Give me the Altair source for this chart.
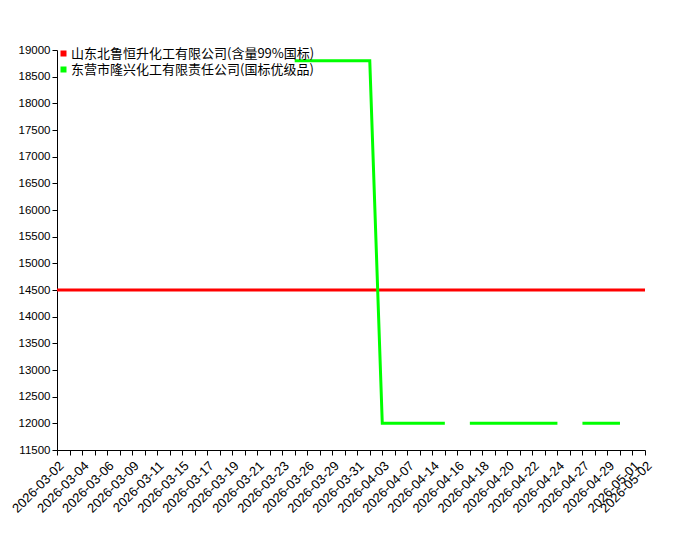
import altair as alt
import pandas as pd

dates = [
    "2026-03-02", "2026-03-03", "2026-03-04", "2026-03-05", "2026-03-06", "2026-03-08",
    "2026-03-09", "2026-03-10", "2026-03-11", "2026-03-13", "2026-03-15", "2026-03-16",
    "2026-03-17", "2026-03-18", "2026-03-19", "2026-03-20", "2026-03-21", "2026-03-22",
    "2026-03-23", "2026-03-25", "2026-03-26", "2026-03-27", "2026-03-29", "2026-03-30",
    "2026-03-31", "2026-04-02", "2026-04-03", "2026-04-06", "2026-04-07", "2026-04-10",
    "2026-04-14", "2026-04-15", "2026-04-16", "2026-04-17", "2026-04-18", "2026-04-19",
    "2026-04-20", "2026-04-21", "2026-04-22", "2026-04-23", "2026-04-24", "2026-04-26",
    "2026-04-27", "2026-04-28", "2026-04-29", "2026-04-30", "2026-05-01", "2026-05-02",
]

series_names = [
    "山东北鲁恒升化工有限公司(含量99%国标)",
    "东营市隆兴化工有限责任公司(国标优级品)",
]
series_colors = ["#ff0000", "#00ff00"]

red_values = [14500] * 48
N = None
green_values = [
    N, N, N, N, N, N, N, N, N, N, N, N, N, N, N, N, N, N, N,
    18800, 18800, 18800, 18800, 18800, 18800, 18800,
    12000, 12000, 12000, 12000, 12000, 12000,
    N,
    12000, 12000, 12000, 12000, 12000, 12000, 12000, 12000,
    N,
    12000, 12000, 12000, 12000,
    N, N,
]

y_ticks = list(range(11500, 19001, 500))

shown_labels = dates[::2] + [dates[-1]]

rows = []
for d, r, g in zip(dates, red_values, green_values):
    rows.append({"date": d, "series": series_names[0], "value": r})
    rows.append({"date": d, "series": series_names[1], "value": g})
df = pd.DataFrame(rows)

label_list = "[" + ",".join("'" + s + "'" for s in shown_labels) + "]"

chart = (
    alt.Chart(df)
    .mark_line(strokeWidth=3, invalid="break-paths-show-domains")
    .encode(
        x=alt.X(
            "date:O",
            sort=dates,
            scale=alt.Scale(type="point", padding=0),
            axis=alt.Axis(
                title=None,
                labelAngle=315,
                labelOverlap=False,
                labelExpr="indexof(" + label_list + ", datum.value) >= 0 ? datum.value : ''",
                labelFont="Liberation Sans",
                labelFontSize=13,
                labelColor="#000",
                labelPadding=4,
                tickColor="#000",
                domainColor="#000",
                tickSize=5,
                grid=False,
            ),
        ),
        y=alt.Y(
            "value:Q",
            scale=alt.Scale(domain=[11500, 19000], nice=False, zero=False),
            axis=alt.Axis(
                title=None,
                values=y_ticks,
                format="d",
                labelFont="Liberation Sans",
                labelFontSize=11.5,
                labelColor="#000",
                tickColor="#000",
                domainColor="#000",
                tickSize=5,
                grid=False,
            ),
        ),
        color=alt.Color(
            "series:N",
            scale=alt.Scale(domain=series_names, range=series_colors),
            legend=alt.Legend(
                title=None,
                orient="none",
                legendX=0,
                legendY=-3,
                symbolType="square",
                symbolSize=4,
                symbolStrokeWidth=4,
                labelFont="Noto Sans CJK SC",
                labelFontSize=13,
                labelColor="#000",
                labelOffset=1,
                labelLimit=0,
                rowPadding=-5,
            ),
        ),
        detail="series:N",
    )
    .properties(width=588, height=400, padding={"left": 1, "top": 36, "right": 5, "bottom": 5})
    .configure_view(stroke=None)
)

chart.save("out.html", embed_options={"renderer": "svg", "actions": False})
